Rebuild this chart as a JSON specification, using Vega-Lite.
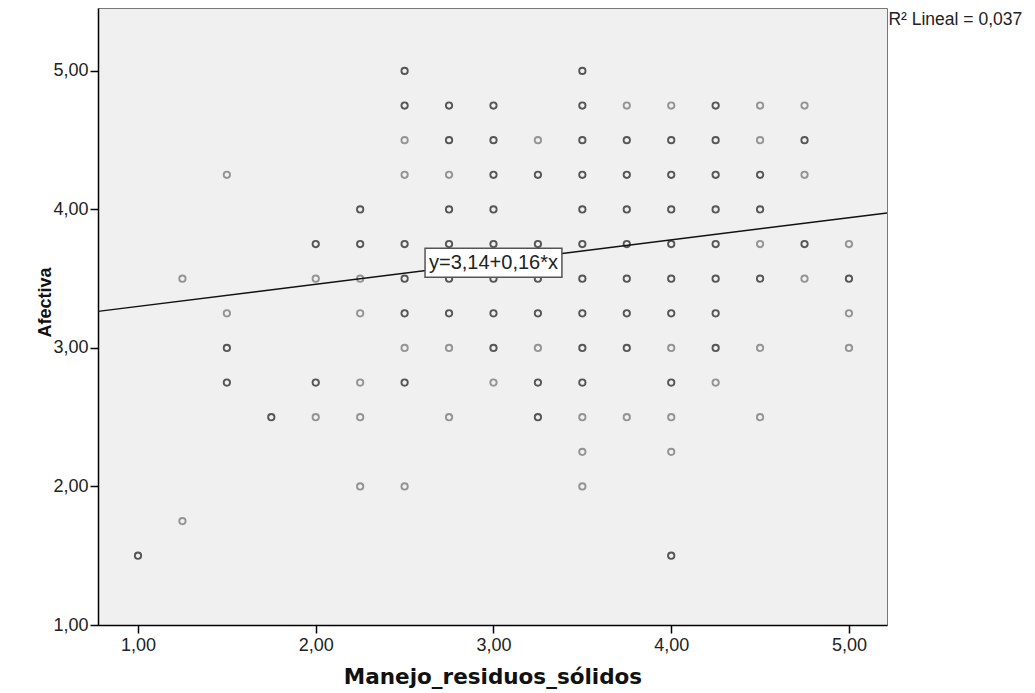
{
  "$schema": "https://vega.github.io/schema/vega-lite/v6.json",
  "width": 789,
  "height": 617,
  "autosize": "none",
  "padding": {"left": 98, "top": 8, "right": 148, "bottom": 68},
  "background": "white",
  "config": {
    "locale": {"number": {"decimal": ",", "thousands": ".", "grouping": [3], "currency": ["", " €"]}},
    "view": {"fill": "#f0f0f0", "stroke": "#777777", "strokeWidth": 1},
    "axis": {"grid": false, "domainColor": "#000000", "tickColor": "#000000", "labelColor": "#222222", "labelFont": "Liberation Sans", "labelFontSize": 18, "tickSize": 8, "domainWidth": 1.5, "tickWidth": 1.5}
  },
  "datasets": {
    "pts": [
      {"x": 2.5, "y": 5.0, "n": 2}, {"x": 3.5, "y": 5.0, "n": 2},
      {"x": 2.5, "y": 4.75, "n": 2}, {"x": 2.75, "y": 4.75, "n": 2}, {"x": 3.0, "y": 4.75, "n": 2}, {"x": 3.5, "y": 4.75, "n": 2}, {"x": 3.75, "y": 4.75, "n": 1}, {"x": 4.0, "y": 4.75, "n": 1}, {"x": 4.25, "y": 4.75, "n": 2}, {"x": 4.5, "y": 4.75, "n": 1}, {"x": 4.75, "y": 4.75, "n": 1},
      {"x": 2.5, "y": 4.5, "n": 1}, {"x": 2.75, "y": 4.5, "n": 2}, {"x": 3.0, "y": 4.5, "n": 2}, {"x": 3.25, "y": 4.5, "n": 1}, {"x": 3.5, "y": 4.5, "n": 2}, {"x": 3.75, "y": 4.5, "n": 2}, {"x": 4.0, "y": 4.5, "n": 2}, {"x": 4.25, "y": 4.5, "n": 2}, {"x": 4.5, "y": 4.5, "n": 1}, {"x": 4.75, "y": 4.5, "n": 2},
      {"x": 1.5, "y": 4.25, "n": 1}, {"x": 2.5, "y": 4.25, "n": 1}, {"x": 2.75, "y": 4.25, "n": 1}, {"x": 3.0, "y": 4.25, "n": 2}, {"x": 3.25, "y": 4.25, "n": 2}, {"x": 3.5, "y": 4.25, "n": 2}, {"x": 3.75, "y": 4.25, "n": 2}, {"x": 4.0, "y": 4.25, "n": 2}, {"x": 4.25, "y": 4.25, "n": 2}, {"x": 4.5, "y": 4.25, "n": 2}, {"x": 4.75, "y": 4.25, "n": 1},
      {"x": 2.25, "y": 4.0, "n": 2}, {"x": 2.75, "y": 4.0, "n": 2}, {"x": 3.0, "y": 4.0, "n": 2}, {"x": 3.5, "y": 4.0, "n": 2}, {"x": 3.75, "y": 4.0, "n": 2}, {"x": 4.0, "y": 4.0, "n": 2}, {"x": 4.25, "y": 4.0, "n": 2}, {"x": 4.5, "y": 4.0, "n": 2},
      {"x": 2.0, "y": 3.75, "n": 2}, {"x": 2.25, "y": 3.75, "n": 2}, {"x": 2.5, "y": 3.75, "n": 2}, {"x": 2.75, "y": 3.75, "n": 2}, {"x": 3.0, "y": 3.75, "n": 2}, {"x": 3.25, "y": 3.75, "n": 2}, {"x": 3.5, "y": 3.75, "n": 2}, {"x": 3.75, "y": 3.75, "n": 2}, {"x": 4.0, "y": 3.75, "n": 2}, {"x": 4.25, "y": 3.75, "n": 2}, {"x": 4.5, "y": 3.75, "n": 1}, {"x": 4.75, "y": 3.75, "n": 2}, {"x": 5.0, "y": 3.75, "n": 1},
      {"x": 1.25, "y": 3.5, "n": 1}, {"x": 2.0, "y": 3.5, "n": 1}, {"x": 2.25, "y": 3.5, "n": 1}, {"x": 2.5, "y": 3.5, "n": 2}, {"x": 2.75, "y": 3.5, "n": 2}, {"x": 3.0, "y": 3.5, "n": 2}, {"x": 3.25, "y": 3.5, "n": 2}, {"x": 3.5, "y": 3.5, "n": 2}, {"x": 3.75, "y": 3.5, "n": 2}, {"x": 4.0, "y": 3.5, "n": 2}, {"x": 4.25, "y": 3.5, "n": 2}, {"x": 4.5, "y": 3.5, "n": 2}, {"x": 4.75, "y": 3.5, "n": 1}, {"x": 5.0, "y": 3.5, "n": 2},
      {"x": 1.5, "y": 3.25, "n": 1}, {"x": 2.25, "y": 3.25, "n": 1}, {"x": 2.5, "y": 3.25, "n": 2}, {"x": 2.75, "y": 3.25, "n": 2}, {"x": 3.0, "y": 3.25, "n": 2}, {"x": 3.25, "y": 3.25, "n": 2}, {"x": 3.5, "y": 3.25, "n": 2}, {"x": 3.75, "y": 3.25, "n": 2}, {"x": 4.0, "y": 3.25, "n": 2}, {"x": 4.25, "y": 3.25, "n": 2}, {"x": 5.0, "y": 3.25, "n": 1},
      {"x": 1.5, "y": 3.0, "n": 2}, {"x": 2.5, "y": 3.0, "n": 1}, {"x": 2.75, "y": 3.0, "n": 1}, {"x": 3.0, "y": 3.0, "n": 2}, {"x": 3.25, "y": 3.0, "n": 1}, {"x": 3.5, "y": 3.0, "n": 2}, {"x": 3.75, "y": 3.0, "n": 2}, {"x": 4.0, "y": 3.0, "n": 1}, {"x": 4.25, "y": 3.0, "n": 2}, {"x": 4.5, "y": 3.0, "n": 1}, {"x": 5.0, "y": 3.0, "n": 1},
      {"x": 1.5, "y": 2.75, "n": 2}, {"x": 2.0, "y": 2.75, "n": 2}, {"x": 2.25, "y": 2.75, "n": 1}, {"x": 2.5, "y": 2.75, "n": 2}, {"x": 3.0, "y": 2.75, "n": 1}, {"x": 3.25, "y": 2.75, "n": 2}, {"x": 3.5, "y": 2.75, "n": 2}, {"x": 4.0, "y": 2.75, "n": 2}, {"x": 4.25, "y": 2.75, "n": 1},
      {"x": 1.75, "y": 2.5, "n": 2}, {"x": 2.0, "y": 2.5, "n": 1}, {"x": 2.25, "y": 2.5, "n": 1}, {"x": 2.75, "y": 2.5, "n": 1}, {"x": 3.25, "y": 2.5, "n": 2}, {"x": 3.5, "y": 2.5, "n": 1}, {"x": 3.75, "y": 2.5, "n": 1}, {"x": 4.0, "y": 2.5, "n": 1}, {"x": 4.5, "y": 2.5, "n": 1},
      {"x": 3.5, "y": 2.25, "n": 1}, {"x": 4.0, "y": 2.25, "n": 1},
      {"x": 2.25, "y": 2.0, "n": 1}, {"x": 2.5, "y": 2.0, "n": 1}, {"x": 3.5, "y": 2.0, "n": 1},
      {"x": 1.25, "y": 1.75, "n": 1},
      {"x": 1.0, "y": 1.5, "n": 2}, {"x": 4.0, "y": 1.5, "n": 2}
    ],
    "fit": [
      {"x": 0.775, "y": 3.264},
      {"x": 5.214, "y": 3.974}
    ],
    "box": [
      {"x": 2.615, "x2": 3.385, "y": 3.511, "y2": 3.72, "cx": 3.0, "cy": 3.612, "label": "y=3,14+0,16*x"}
    ],
    "r2": [
      {"x": 5.222, "y": 5.37, "label": "R² Lineal = 0,037"}
    ]
  },
  "layer": [
    {
      "data": {"name": "pts"},
      "mark": {"type": "point", "shape": "circle", "filled": false, "size": 40, "strokeWidth": 1.9},
      "encoding": {
        "x": {
          "field": "x", "type": "quantitative",
          "scale": {"domain": [0.775, 5.214], "nice": false, "zero": false},
          "axis": {"values": [1, 2, 3, 4, 5], "format": ".2f", "title": "Manejo_residuos_sólidos", "titleFont": "DejaVu Sans", "titleFontSize": 21.5, "titleFontWeight": "bold", "titleColor": "#111111", "titlePadding": 12, "labelPadding": 3}
        },
        "y": {
          "field": "y", "type": "quantitative",
          "scale": {"domain": [1, 5.454], "nice": false, "zero": false},
          "axis": {"values": [1, 2, 3, 4, 5], "format": ".2f", "title": "Afectiva", "titleFont": "Liberation Sans", "titleFontSize": 18, "titleFontWeight": "bold", "titleColor": "#111111", "titlePadding": -2, "titleY": 294, "labelPadding": 2}
        },
        "color": {"field": "n", "type": "nominal", "scale": {"domain": [1, 2], "range": ["#6e6e6e", "#151515"]}, "legend": null}
      }
    },
    {
      "data": {"name": "fit"},
      "mark": {"type": "line", "color": "#111111", "strokeWidth": 1.5},
      "encoding": {
        "x": {"field": "x", "type": "quantitative"},
        "y": {"field": "y", "type": "quantitative"}
      }
    },
    {
      "data": {"name": "box"},
      "mark": {"type": "rect", "fill": "#ffffff", "stroke": "#555555", "strokeWidth": 1.5},
      "encoding": {
        "x": {"field": "x", "type": "quantitative"},
        "x2": {"field": "x2"},
        "y": {"field": "y", "type": "quantitative"},
        "y2": {"field": "y2"}
      }
    },
    {
      "data": {"name": "box"},
      "mark": {"type": "text", "font": "Liberation Sans", "fontSize": 20, "color": "#222222", "align": "center", "baseline": "middle"},
      "encoding": {
        "x": {"field": "cx", "type": "quantitative"},
        "y": {"field": "cy", "type": "quantitative"},
        "text": {"field": "label"}
      }
    },
    {
      "data": {"name": "r2"},
      "mark": {"type": "text", "font": "Liberation Sans", "fontSize": 17.5, "color": "#222222", "align": "left", "baseline": "middle"},
      "encoding": {
        "x": {"field": "x", "type": "quantitative"},
        "y": {"field": "y", "type": "quantitative"},
        "text": {"field": "label"}
      }
    }
  ]
}
